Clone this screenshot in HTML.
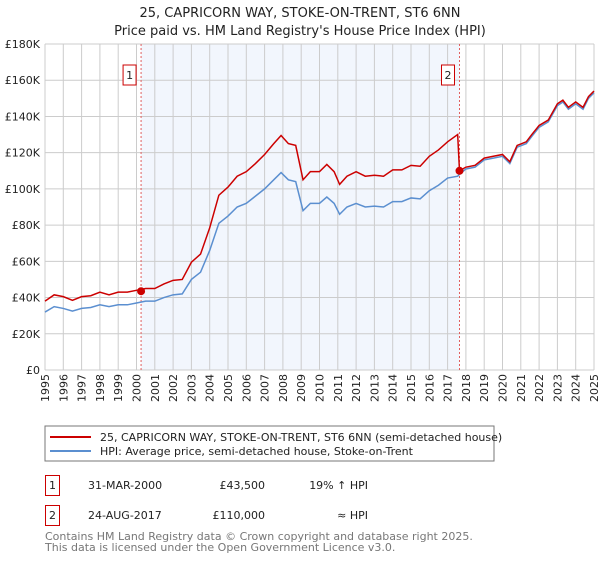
<!DOCTYPE html>
<html><head><meta charset="utf-8"><style>
body{margin:0;background:#fff;font-family:"Liberation Sans","DejaVu Sans",sans-serif;}
svg text{font-family:"DejaVu Sans","Liberation Sans",sans-serif;}
</style></head><body>
<svg id="c" width="600" height="560" xmlns="http://www.w3.org/2000/svg">
<text x="300" y="17" text-anchor="middle" font-size="13" fill="#222">25, CAPRICORN WAY, STOKE-ON-TRENT, ST6 6NN</text>
<text x="300" y="35" text-anchor="middle" font-size="13" fill="#222">Price paid vs. HM Land Registry's House Price Index (HPI)</text>
<g id="plot"></g>
<rect x="45" y="426" width="449" height="35" fill="#fff" stroke="#777"/>
<line x1="50" y1="437" x2="91" y2="437" stroke="#cc0000" stroke-width="2"/>
<text x="100" y="441" font-size="11" fill="#222">25, CAPRICORN WAY, STOKE-ON-TRENT, ST6 6NN (semi-detached house)</text>
<line x1="50" y1="451" x2="91" y2="451" stroke="#5b8fd0" stroke-width="2"/>
<text x="100" y="455" font-size="11" fill="#222">HPI: Average price, semi-detached house, Stoke-on-Trent</text>
<g font-size="11" fill="#222">
<rect x="45.5" y="475.5" width="14" height="20" fill="none" stroke="#cc0000"/>
<text x="52.5" y="489" text-anchor="middle">1</text>
<text x="88" y="489">31-MAR-2000</text>
<text x="265" y="489" text-anchor="end">£43,500</text>
<text x="368" y="489" text-anchor="end">19% ↑ HPI</text>
<rect x="45.5" y="505.5" width="14" height="20" fill="none" stroke="#cc0000"/>
<text x="52.5" y="519" text-anchor="middle">2</text>
<text x="88" y="519">24-AUG-2017</text>
<text x="265" y="519" text-anchor="end">£110,000</text>
<text x="368" y="519" text-anchor="end">≈ HPI</text>
</g>
<text x="45" y="540" font-size="11" fill="#777">Contains HM Land Registry data © Crown copyright and database right 2025.</text>
<text x="45" y="551" font-size="11" fill="#777">This data is licensed under the Open Government Licence v3.0.</text>
</svg>
<script>
const years=[1995,1995.5,1996,1996.5,1997,1997.5,1998,1998.5,1999,1999.5,2000,2000.5,2001,2001.5,2002,2002.5,2003,2003.5,2004,2004.5,2005,2005.5,2006,2006.5,2007,2007.5,2007.9,2008.3,2008.7,2009.1,2009.5,2010,2010.4,2010.8,2011.1,2011.5,2012,2012.5,2013,2013.5,2014,2014.5,2015,2015.5,2016,2016.5,2017,2017.55,2017.65,2018,2018.5,2019,2019.5,2020,2020.4,2020.8,2021.3,2021.6,2022,2022.5,2023,2023.3,2023.6,2024,2024.4,2024.7,2025];
const hpi=[32,35,34,32.5,34,34.5,36,35,36,36,37,38,38,40,41.5,42,50,54,66,81,85,90,92,96,100,105,109,105,104,88,92,92,95.5,92,86,90,92,90,90.5,90,93,93,95,94.5,99,102,106,107,108,111,112,116,117,118,114,123,125,129,134,137,146,148,144,147,144,150,153];
const price=[38,41.5,40.5,38.5,40.5,41,43,41.5,43,43,44,45,45,47.5,49.5,50,59.5,64,78.5,96.5,101,107,109.5,114,119,125,129.5,125,124,105,109.5,109.5,113.5,109.5,102.5,107,109.5,107,107.5,107,110.5,110.5,113,112.5,118,121.5,126,130,110,112,113,117,118,119,115,124,126,130,135,138,147,149,145,148,145,151,154];
const yTicks=[0,20,40,60,80,100,120,140,160,180];
const xTicks=[1995,1996,1997,1998,1999,2000,2001,2002,2003,2004,2005,2006,2007,2008,2009,2010,2011,2012,2013,2014,2015,2016,2017,2018,2019,2020,2021,2022,2023,2024,2025];
const saleYears=[2000.25,2017.65];
const salePrices=[43.5,110];
const X0=45,X1=594,Y0=370,Y1=44;
const x=v=>X0+(v-1995)/30*(X1-X0);
const y=v=>Y0-v/180*(Y0-Y1);
const NS='http://www.w3.org/2000/svg';
const g=document.getElementById('plot');
function mk(t,a){const e=document.createElementNS(NS,t);for(const k in a)e.setAttribute(k,a[k]);g.appendChild(e);return e;}
let e=mk('rect',{x:x(saleYears[0]),y:Y1,width:x(saleYears[1])-x(saleYears[0]),height:Y0-Y1,fill:'#f2f6fd'});


xTicks.forEach(t=>{const l=mk('line',{x1:x(t),x2:x(t),y1:Y1,y2:Y0,stroke:'#ccc'});


const px=x(t)+4,py=374;
const tx=mk('text',{x:px,y:py,'text-anchor':'end','font-size':11,fill:'#222',transform:'rotate(-90 '+px+' '+py+')'});tx.textContent=t;

});
yTicks.forEach(t=>{const l=mk('line',{x1:X0,x2:X1,y1:y(t),y2:y(t),stroke:'#ccc'});


const tx=mk('text',{x:40,y:y(t)+4,'text-anchor':'end','font-size':11,fill:'#222'});tx.textContent=t?'£'+t+'K':'£0';

});
saleYears.forEach((s,i)=>{const l=mk('line',{x1:x(s),x2:x(s),y1:Y1,y2:Y0,stroke:'#e06060','stroke-dasharray':'2,2'});


const r=mk('rect',{x:x(s)-18,y:65,width:13,height:20,fill:'#fff',stroke:'#cc0000'});


const tx=mk('text',{x:x(s)-11.5,y:79,'text-anchor':'middle','font-size':11,fill:'#222'});tx.textContent=i+1;

});
const pts=a=>a.map((v,i)=>x(years[i])+','+y(v)).join(' ');
e=mk('polyline',{points:pts(hpi),fill:'none',stroke:'#5b8fd0','stroke-width':1.5});


e=mk('polyline',{points:pts(price),fill:'none',stroke:'#cc0000','stroke-width':1.5});


saleYears.forEach((s,i)=>{const c=mk('circle',{cx:x(s),cy:y(salePrices[i]),r:4,fill:'#cc0000'});

});
</script>
</body></html>
